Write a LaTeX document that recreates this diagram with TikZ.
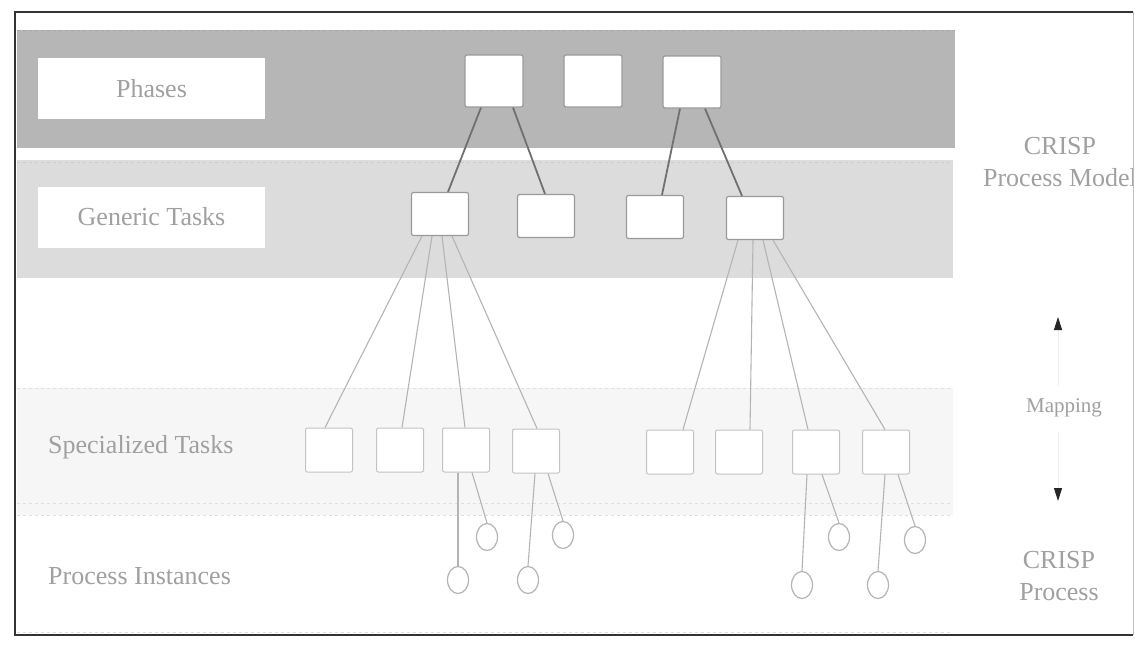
\documentclass[tikz,border=0pt]{standalone}
\usepackage{fontspec}
\setmainfont{Liberation Serif}
\usetikzlibrary{arrows.meta,shapes.geometric}
\definecolor{bandDark}{HTML}{B6B6B6}
\definecolor{bandLight}{HTML}{DCDCDC}
\definecolor{bandFaint}{HTML}{F6F6F6}
\definecolor{txtGray}{HTML}{A0A0A0}
\definecolor{lineDark}{HTML}{707070}
\definecolor{lineLight}{HTML}{B4B4B4}
\definecolor{boxEdge}{HTML}{9A9A9A}
\tikzset{
  lbl/.style={font=\fontsize{26}{30}\selectfont, text=txtGray, inner sep=0pt},
  lblbox/.style={fill=white, draw=none, minimum width=227pt, minimum height=61pt, font=\fontsize{26}{30}\selectfont, text=txtGray},
  phasebox/.style={fill=white, draw=boxEdge, line width=1.2pt, rounded corners=2pt, minimum width=58pt, minimum height=52pt, inner sep=0pt},
  genbox/.style={fill=white, draw=boxEdge, line width=1.2pt, rounded corners=2pt, minimum width=57pt, minimum height=43pt, inner sep=0pt},
  specbox/.style={fill=white, draw=lineLight!80, line width=1pt, rounded corners=2pt, minimum width=47pt, minimum height=44pt, inner sep=0pt},
  inst/.style={ellipse, fill=white, draw=lineLight, line width=1.2pt, minimum width=21pt, minimum height=27pt, inner sep=0pt},
  toplink/.style={draw=lineDark, line width=1.8pt},
  lowlink/.style={draw=lineLight, line width=1.1pt},
  band/.style={draw=none},
  bandedge/.style={draw=gray!60, dashed, line width=0.8pt}
}
\begin{document}
\begin{tikzpicture}[x=1pt,y=-1pt]
\useasboundingbox (0,0) rectangle (1135,645);
\fill[white] (0,0) rectangle (1135,645);
% bands
\fill[bandDark] (17,30) rectangle (955,148);
\draw[bandedge, draw=gray!70] (17,30) -- (955,30);
\fill[bandLight] (17,160) rectangle (953,278);
\draw[bandedge, draw=gray!40] (17,162) -- (953,162);
\fill[bandFaint] (17,388) rectangle (953,515);
\draw[bandedge, draw=gray!25] (17,388) -- (953,388);
\draw[bandedge, draw=gray!25] (17,503) -- (953,503);
\draw[bandedge, draw=gray!25] (17,515) -- (953,515);
\draw[bandedge, draw=gray!25] (17,632) -- (953,632);
% label boxes
\node[lblbox] (lphases) at (151.5,88.5) {Phases};
\node[lblbox] (lgeneric) at (151.5,217) {Generic Tasks};
\node[lbl, anchor=west] (lspec) at (48,447) {Specialized Tasks};
\node[lbl, anchor=west] (linst) at (48,576) {Process Instances};
% phase boxes
\node[phasebox] (p1) at (494,81) {};
\node[phasebox] (p2) at (593,81) {};
\node[phasebox] (p3) at (692,82) {};
% generic boxes
\node[genbox] (g1) at (440,214) {};
\node[genbox] (g2) at (546,216) {};
\node[genbox] (g3) at (655,217) {};
\node[genbox] (g4) at (755,218) {};
% specialized boxes
\node[specbox] (s1) at (329,450) {};
\node[specbox] (s2) at (400,450) {};
\node[specbox] (s3) at (466,450) {};
\node[specbox] (s4) at (536,451) {};
\node[specbox] (s5) at (670,452) {};
\node[specbox] (s6) at (739,452) {};
\node[specbox] (s7) at (816,452) {};
\node[specbox] (s8) at (886,452) {};
% instances
\node[inst] (c1) at (458,580) {};
\node[inst] (c2) at (487,537) {};
\node[inst] (c3) at (528,580) {};
\node[inst] (c4) at (563,535) {};
\node[inst] (c5) at (802,585) {};
\node[inst] (c6) at (839,537) {};
\node[inst] (c7) at (878,585) {};
\node[inst] (c8) at (915,540) {};
% phase -> generic
\draw[toplink] ([xshift=-13pt]p1.south) -- ([xshift=8pt]g1.north);
\draw[toplink] ([xshift=19pt]p1.south) -- ([xshift=-1pt]g2.north);
\draw[toplink] ([xshift=-12pt]p3.south) -- ([xshift=7pt]g3.north);
\draw[toplink] ([xshift=13pt]p3.south) -- ([xshift=-13pt]g4.north);
% generic -> specialized
\draw[lowlink] ([xshift=-18pt]g1.south) -- ([xshift=-4pt]s1.north);
\draw[lowlink] ([xshift=-8pt]g1.south) -- ([xshift=2pt]s2.north);
\draw[lowlink] ([xshift=2pt]g1.south) -- ([xshift=-1pt]s3.north);
\draw[lowlink] ([xshift=12pt]g1.south) -- ([xshift=1pt]s4.north);
\draw[lowlink] ([xshift=-17pt]g4.south) -- ([xshift=13pt]s5.north);
\draw[lowlink] ([xshift=-2pt]g4.south) -- ([xshift=11pt]s6.north);
\draw[lowlink] ([xshift=8pt]g4.south) -- ([xshift=-8pt]s7.north);
\draw[lowlink] ([xshift=18pt]g4.south) -- ([xshift=-1pt]s8.north);
% specialized -> instances
\draw[lowlink] ([xshift=-8pt]s3.south) -- (c1.north);
\draw[lowlink] ([xshift=6pt]s3.south) -- (c2.north);
\draw[lowlink] ([xshift=-1pt]s4.south) -- (c3.north);
\draw[lowlink] ([xshift=12pt]s4.south) -- (c4.north);
\draw[lowlink] ([xshift=-9pt]s7.south) -- (c5.north);
\draw[lowlink] ([xshift=6pt]s7.south) -- (c6.north);
\draw[lowlink] ([xshift=-1pt]s8.south) -- (c7.north);
\draw[lowlink] ([xshift=12pt]s8.south) -- (c8.north);
% right side texts
\begin{scope}
\clip (15,12) rectangle (1133,635);
\node[lbl, align=center] (crispmodel) at (1060,162) {CRISP\\[2pt]Process Model};
\end{scope}
\node[lbl, font=\fontsize{21}{24}\selectfont] (mapping) at (1064,408) {Mapping};
\node[lbl, align=center] (crispproc) at (1059,576) {CRISP\\[2pt]Process};
\coordinate (upStart) at (1058,385);
\coordinate (upEnd) at (1058,317);
\coordinate (dnStart) at (1058,432);
\coordinate (dnEnd) at (1058,501);
\draw[draw=gray!15, line width=1pt, -{Triangle[length=13pt,width=8pt,color=black!85]}] (upStart) -- (upEnd);
\draw[draw=gray!15, line width=1pt, -{Triangle[length=13pt,width=8pt,color=black!85]}] (dnStart) -- (dnEnd);
% outer frame
\draw[black!80, line width=1.6pt] (1133,12) -- (15,12) -- (15,635) -- (1133,635);
\draw[gray!50, line width=0.8pt] (1133,12) -- (1133,635);
\end{tikzpicture}
\end{document}
